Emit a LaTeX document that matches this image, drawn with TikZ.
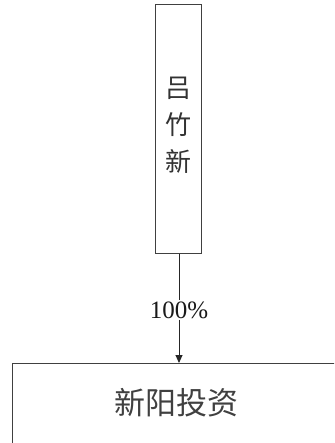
\documentclass[tikz,border=0pt]{standalone}
\usepackage{fontspec}
\setmainfont{Liberation Serif}
\newfontfamily\cjk{Noto Sans CJK SC}
\usetikzlibrary{arrows.meta}
\begin{document}
\begin{tikzpicture}[x=1pt,y=-1pt,
  boxline/.style={draw=black!75,line width=1pt},
  plainline/.style={draw=black!85,line width=0.9pt},
  conn/.style={plainline,-{Triangle[length=8pt,width=7pt]}}]
\useasboundingbox (0,0) rectangle (334,443);
\clip (0,0) rectangle (334,443);
\node[boxline,minimum width=46pt,minimum height=248pt,inner sep=0pt] (p) at (178,129) {};
\node[font=\cjk\fontsize{26}{37}\selectfont,align=center,text=black!80] (pt) at (178,125) {吕\\竹\\新};
\node[boxline,minimum width=330pt,minimum height=90pt,inner sep=0pt,anchor=north west] (c) at (12,363) {};
\node[font=\cjk\fontsize{31}{36}\selectfont,text=black!75] (ct) at (176,403) {新阳投资};
\node[font=\fontsize{25}{28}\selectfont,fill=white,inner sep=1pt,text=black!90] (lab) at (179,310) {100\%};
\draw[plainline] (p.south -| 179,0) -- (lab.north -| 179,0);
\draw[conn] (lab.south -| 179,0) -- (c.north -| 179,0);
\end{tikzpicture}
\end{document}
